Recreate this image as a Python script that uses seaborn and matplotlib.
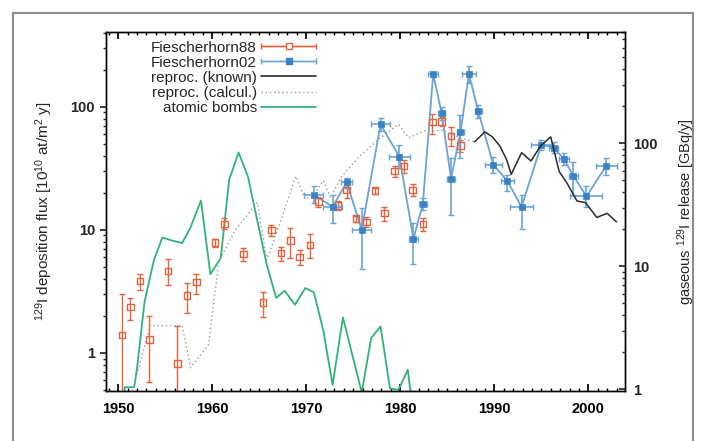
import numpy as np
import matplotlib
matplotlib.use("Agg")
import matplotlib.pyplot as plt
import seaborn as sns
from matplotlib.ticker import MultipleLocator, LogLocator, NullFormatter
from matplotlib.legend_handler import HandlerErrorbar
from matplotlib.container import ErrorbarContainer
from matplotlib.lines import Line2D
from matplotlib.patches import Rectangle

# Fiescherhorn88 (open squares, vertical error bars)
f88_year = [1950.4, 1951.3, 1952.3, 1953.3, 1955.3, 1956.3, 1957.3, 1958.3, 1960.3, 1961.3,
            1963.3, 1965.4, 1966.3, 1967.3, 1968.3, 1969.3, 1970.4, 1971.3, 1973.4, 1974.3,
            1975.3, 1976.4, 1977.3, 1978.3, 1979.4, 1980.4, 1981.3, 1982.4, 1983.4, 1984.4,
            1985.4, 1986.4]
f88_val = [1.40, 2.35, 3.85, 1.28, 4.64, 0.82, 2.92, 3.76, 7.87, 11.2,
           6.37, 2.56, 10.0, 6.46, 8.15, 6.0, 7.56, 17.0, 15.8, 21.1,
           12.3, 11.6, 20.8, 13.7, 30.1, 33.1, 21.1, 11.1, 75, 76,
           58, 48.4]
f88_lo = [0.3, 1.85, 3.25, 0.58, 3.55, 0.3, 2.1, 3.0, 7.3, 10.1,
          5.6, 1.97, 8.9, 5.6, 5.95, 5.2, 5.95, 15.4, 14.5, 18.2,
          11.5, 10.6, 19.5, 11.7, 27.1, 29.1, 18.9, 9.8, 60, 70,
          48, 43]
f88_hi = [3.0, 2.78, 4.4, 2.0, 5.8, 1.64, 3.7, 4.4, 8.5, 12.4,
          7.1, 3.15, 11, 7.2, 10.4, 6.9, 9.3, 18.6, 17, 23.2,
          13, 12.8, 22, 15.3, 33, 37, 23.6, 12.5, 87, 82,
          68, 54]

# Fiescherhorn02 (filled squares, x and y error bars)
f02_year = [1970.8, 1972.8, 1974.3, 1975.9, 1977.9, 1979.9, 1981.4, 1982.4, 1983.5, 1984.4,
            1985.4, 1986.4, 1987.3, 1988.3, 1989.9, 1991.4, 1992.9, 1995.0, 1996.3, 1997.4,
            1998.4, 1999.8, 2001.9]
f02_val = [19.2, 15.4, 24.3, 10.0, 72, 39.3, 8.45, 16.3, 184, 89,
           26, 62, 184, 91.6, 33.8, 24.8, 15.4, 49, 46.6, 37.7,
           27.6, 18.7, 33.1]
f02_lo = [16.5, 11.3, 22, 4.8, 64, 31.6, 5.3, 14.5, 175, 78,
          13.2, 38, 155, 81, 28.9, 20.5, 10.1, 44.6, 42, 33.8,
          19.2, 15.4, 28]
f02_hi = [22.5, 19.2, 26.5, 15, 80.6, 49, 11.3, 18.3, 193, 100,
          38, 86, 215, 104, 39.4, 28, 19.2, 54, 52, 41.9,
          35.4, 22.6, 38]
f02_xerr = [1.0, 1.0, 0.6, 1.0, 1.0, 1.1, 0.5, 0.4, 0.5, 0.4,
            0.4, 0.4, 0.7, 0.4, 0.9, 0.7, 1.2, 1.1, 0.5, 0.5,
            0.5, 1.7, 1.1]

# reprocessing releases (right axis, GBq/y)
known_year = [1987.9, 1989.0, 1989.8, 1990.6, 1991.3, 1991.8, 1992.9, 1993.9, 1994.9, 1996.0,
              1996.9, 1997.7, 1998.8, 1999.7, 2000.9, 2002.0, 2003.0]
known_val = [103, 124, 113, 95, 74, 56, 84, 72, 95, 113,
             59, 48, 34, 33, 25, 27, 23]
calc_year = [1951.4, 1953.4, 1956.8, 1957.7, 1959.6, 1960.7, 1962.5, 1964.8, 1965.8, 1967.2,
             1968.9, 1969.9, 1971.0, 1971.8, 1972.6, 1973.6, 1975.7, 1977.7, 1979.8, 1980.9,
             1982.5, 1984.5, 1986.5, 1987.9]
calc_val = [0.9, 3.3, 3.3, 1.5, 2.3, 11, 20, 33, 11.3, 22.5,
            54, 35, 40, 50, 36, 52, 79, 108, 143, 111,
            126, 128, 110, 103]

# atomic bombs (left axis)
bomb_year = [1950.4, 1950.7, 1951.7, 1952.0, 1952.8, 1953.8, 1954.7, 1955.7, 1956.8, 1957.7,
             1958.8, 1959.8, 1960.9, 1961.8, 1962.8, 1963.8, 1964.7, 1965.8, 1966.8, 1967.7,
             1968.8, 1969.9, 1970.8, 1971.8, 1972.8, 1973.9, 1975.9, 1976.9, 1977.9, 1978.9,
             1979.8, 1980.8, 1981.4]
bomb_val = [0.3, 0.526, 0.526, 0.75, 2.6, 5.7, 8.66, 8.19, 7.8, 10.5,
            17.3, 4.36, 5.88, 25.5, 42.5, 27.1, 12.8, 5.2, 2.8, 3.2,
            2.46, 3.36, 3.11, 1.54, 0.549, 1.94, 0.476, 1.32, 1.64, 0.516,
            0.50, 0.73, 0.3]

red = "#e0653f"
blue = "#3b82c4"
blue_l = "#6aa3d8"
green = "#2fb37b"

sns.set_theme(style="ticks")
plt.rcParams["font.family"] = ["Liberation Sans", "DejaVu Sans"]
plt.rcParams["mathtext.fontset"] = "custom"
plt.rcParams["mathtext.rm"] = "Liberation Sans"
plt.rcParams["mathtext.it"] = "Liberation Sans:italic"

fig = plt.figure(figsize=(7.05, 4.41), dpi=100)
ax = fig.add_axes([106 / 705, 1 - 391 / 441, (625 - 106) / 705, (391 - 32) / 441])
ax2 = ax.twinx()
ax.set_yscale("log")
ax2.set_yscale("log")

# atomic bombs
sns.lineplot(x=bomb_year, y=bomb_val, ax=ax, color=green, lw=1.3, estimator=None, sort=False)

# Fiescherhorn88
v = np.array(f88_val)
ax.errorbar(f88_year, v, yerr=[v - np.array(f88_lo), np.array(f88_hi) - v],
            fmt="none", ecolor=red, elinewidth=1, capsize=2)
sns.scatterplot(x=f88_year, y=f88_val, ax=ax, marker="s", s=22,
                facecolors="none", edgecolor=red, linewidth=1, zorder=3)

# Fiescherhorn02
v = np.array(f02_val)
ax.errorbar(f02_year, v, xerr=f02_xerr, yerr=[v - np.array(f02_lo), np.array(f02_hi) - v],
            fmt="none", ecolor=blue_l, elinewidth=1.2, capsize=2)
sns.lineplot(x=f02_year, y=f02_val, ax=ax, color=blue_l, lw=1.3, estimator=None, sort=False)
sns.scatterplot(x=f02_year, y=f02_val, ax=ax, marker="s", s=22, color=blue,
                edgecolor=blue, linewidth=0.5, zorder=4)

# reprocessing on right axis
sns.lineplot(x=calc_year, y=calc_val, ax=ax2, color="#9a9a9a", lw=1, ls=(0, (1, 2)),
             estimator=None, sort=False)
sns.lineplot(x=known_year, y=known_val, ax=ax2, color="#2b2b2b", lw=1.1,
             estimator=None, sort=False)

ax.set_xlim(1948.7, 2003.9)
ax.set_ylim(0.49, 405)
ax2.set_ylim(0.97, 805)

ax.xaxis.set_major_locator(MultipleLocator(10))
ax.xaxis.set_minor_locator(MultipleLocator(1))
for a in (ax, ax2):
    a.set_yticks([1, 10, 100], labels=["1", "10", "100"])
    a.yaxis.set_minor_locator(LogLocator(base=10, subs=np.arange(2, 10)))
    a.yaxis.set_minor_formatter(NullFormatter())
    for s in a.spines.values():
        s.set_visible(True)
        s.set_color("black")
        s.set_linewidth(1)

ax.tick_params(axis="x", which="both", direction="in", top=True, bottom=True, colors="black",
               labelsize=10.5, pad=8)
ax.tick_params(axis="x", which="major", length=5)
ax.tick_params(axis="x", which="minor", length=2.5)
ax.tick_params(axis="y", which="both", direction="out", left=True, right=False,
               labelsize=10.5, pad=4)
ax.tick_params(axis="y", which="major", length=4)
ax.tick_params(axis="y", which="minor", length=2)
ax2.tick_params(axis="y", which="both", direction="in", right=True, labelsize=10.5, pad=6)
ax2.tick_params(axis="y", which="major", length=4)
ax2.tick_params(axis="y", which="minor", length=2)
for lab in ax.get_xticklabels() + ax.get_yticklabels() + ax2.get_yticklabels():
    lab.set_fontweight("bold")

ax.set_ylabel(r"$^{129}$I deposition flux [10$^{10}$ at/m$^2$ y]", fontsize=11, labelpad=11)
ax2.set_ylabel(r"gaseous $^{129}$I release [GBq/y]", fontsize=10.5, labelpad=13)

# legend
h88 = ax.errorbar([np.nan], [np.nan], xerr=[1], fmt="-s", color=red, mfc="white", mec=red,
                  ms=4.5, lw=1, capsize=2.5)
h02 = ax.errorbar([np.nan], [np.nan], xerr=[1], fmt="-s", color=blue_l, mfc=blue, mec=blue,
                  ms=4.5, lw=1, capsize=2.5)
hk = Line2D([], [], color="#2b2b2b", lw=1.2)
hc = Line2D([], [], color="#9a9a9a", lw=1, ls=(0, (1, 2)))
hb = Line2D([], [], color=green, lw=1.3)
ax2.legend([h88, h02, hk, hc, hb],
           ["Fiescherhorn88", "Fiescherhorn02", "reproc. (known)", "reproc. (calcul.)", "atomic bombs"],
           handler_map={ErrorbarContainer: HandlerErrorbar(xerr_size=1.8)},
           markerfirst=False, frameon=False, loc="upper right",
           bbox_to_anchor=(324 / 705, 1 - 33 / 441), bbox_transform=fig.transFigure,
           borderpad=0, labelspacing=0.07, handlelength=3.6, handletextpad=0.3, fontsize=11)

fig.patches.append(Rectangle((13 / 705, -0.05), 680 / 705, 1.05 - 13 / 441,
                             transform=fig.transFigure, fill=False, ec="#8c8c8c", lw=1.5))

fig.savefig("out.png", dpi=100)
